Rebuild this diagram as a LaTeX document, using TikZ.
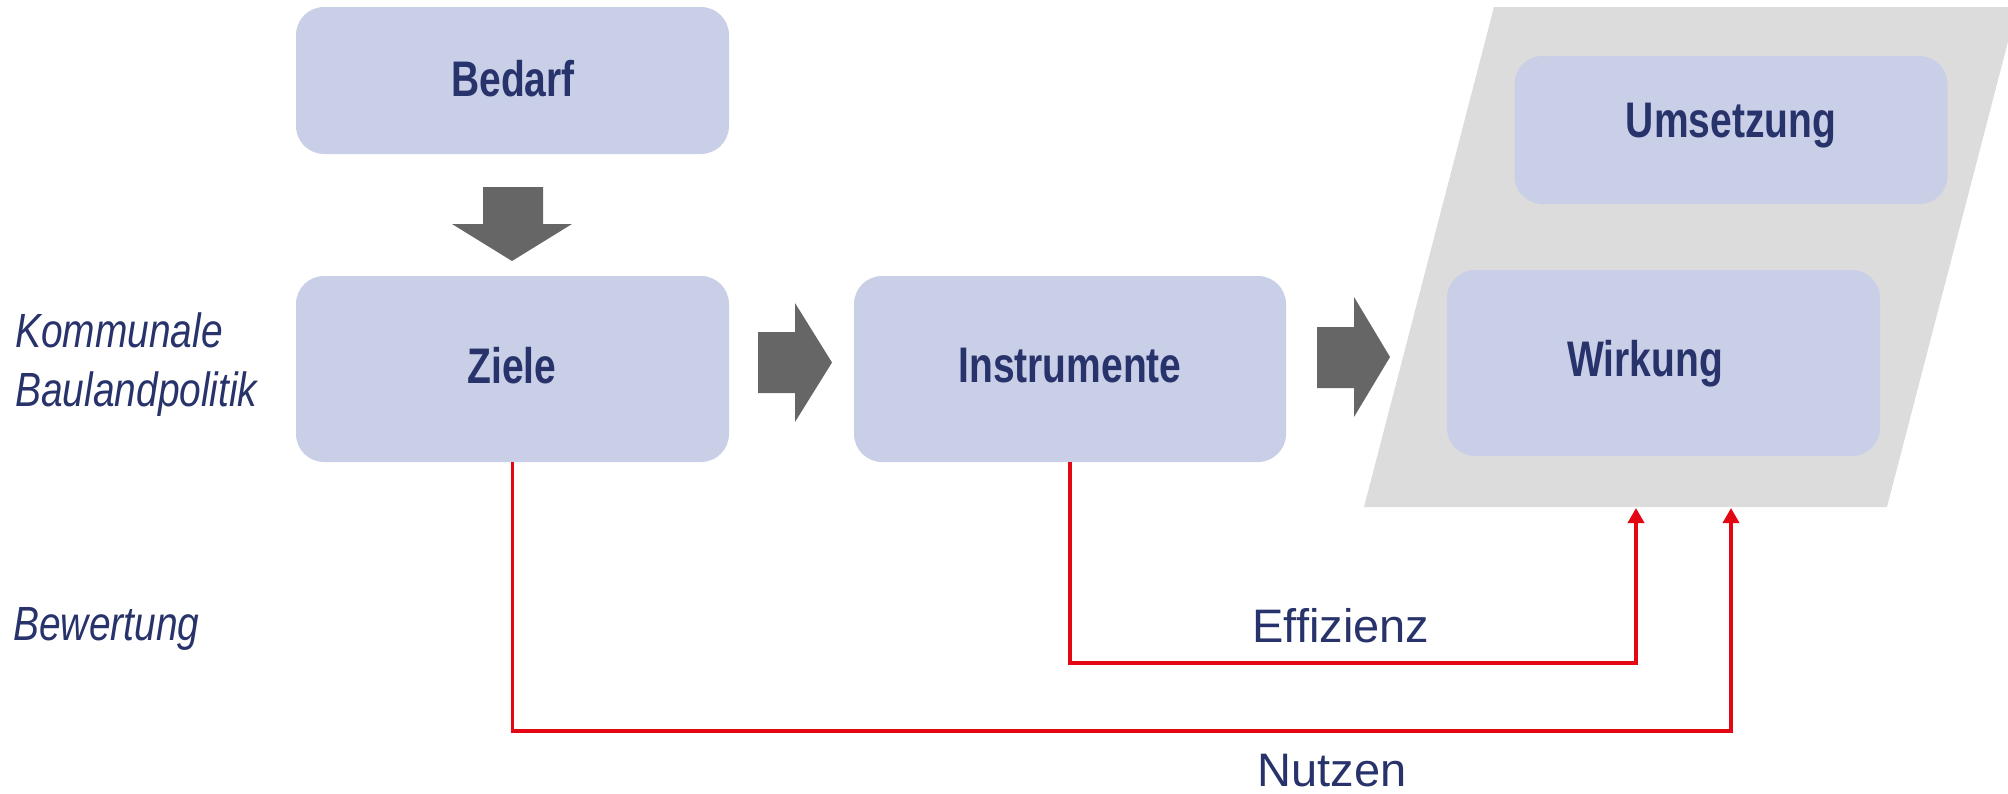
\documentclass[tikz,border=0pt]{standalone}
\usepackage{fontspec}
\setmainfont{Liberation Sans}
\newfontfamily\narrowfont{Liberation Sans}[FakeStretch=0.78]
\newfontfamily\sidefont{Liberation Sans}[FakeStretch=0.81]
\usetikzlibrary{arrows.meta,calc}
\definecolor{boxfill}{HTML}{CACFE8}
\definecolor{navy}{HTML}{27336A}
\definecolor{arrowgray}{HTML}{666666}
\definecolor{panelgray}{HTML}{DCDCDC}
\definecolor{linered}{HTML}{E30613}
\begin{document}
\begin{tikzpicture}[x=0.5pt,y=-0.5pt,
  box/.style={fill=boxfill, rounded corners=14pt, inner sep=0pt, minimum width=216.5pt},
  boxtext/.style={anchor=base, text=navy, font=\narrowfont\bfseries\fontsize{25}{30}\selectfont, inner sep=0pt},
  sidetext/.style={anchor=base west, text=navy, font=\sidefont\itshape\fontsize{24}{29}\selectfont, inner sep=0pt},
  measuretext/.style={anchor=base, text=navy, font=\fontsize{23.5}{28}\selectfont, inner sep=0pt},
  blockarrow/.style={fill=arrowgray},
  feedback/.style={draw=linered, line width=1.8pt, -{Triangle[width=8pt,length=7.5pt]}}
]
\useasboundingbox (0,0) rectangle (2008,793);
\clip (0,0) rectangle (2008,793);

% grey panel
\fill[panelgray] (1494,7) -- (2017,7) -- (1887,507) -- (1364,507) -- cycle;
\coordinate (effend) at (1636,508);
\coordinate (nutzend) at (1731,508);

% boxes
\node[box, minimum height=73.5pt] (bedarf) at (512.5,80.5) {};
\node[box, minimum height=93pt] (ziele) at (512.5,369) {};
\node[box, minimum width=216pt, minimum height=93pt] (instr) at (1070,369) {};
\node[box, minimum height=74pt] (umsetz) at (1731,130) {};
\node[box, minimum height=93pt] (wirk) at (1663.5,363) {};

% box texts
\node[boxtext] (tbedarf) at (513,96) {Bedarf};
\node[boxtext] (tziele) at (512,383) {Ziele};
\node[boxtext] (tinstr) at (1070,382) {Instrumente};
\node[boxtext] (tumsetz) at (1731,137) {Umsetzung};
\node[boxtext] (twirk) at (1645,376) {Wirkung};

% side labels
\node[sidetext] (komm) at (15,347) {Kommunale};
\node[sidetext] (baul) at (15,406) {Baulandpolitik};
\node[sidetext] (bew) at (13,640) {Bewertung};

% block arrows
\fill[blockarrow] (483,187) -- (543,187) -- (543,224) -- (572,224) -- (512,261) -- (452,224) -- (483,224) -- cycle;
\fill[blockarrow] (758,332) -- (795,332) -- (795,303) -- (832,362.5) -- (795,422) -- (795,393) -- (758,393) -- cycle;
\fill[blockarrow] (1317,327) -- (1354,327) -- (1354,297) -- (1390,357) -- (1354,417) -- (1354,388) -- (1317,388) -- cycle;

% feedback lines
\draw[feedback] (instr.south) |- (1636,663) -- (effend);
\draw[feedback] (ziele.south) |- (1731,731) -- (nutzend);

% measure labels
\node[measuretext] (eff) at (1341,642) {Effizienz};
\node[measuretext] (nutz) at (1332,786) {Nutzen};
\end{tikzpicture}
\end{document}
